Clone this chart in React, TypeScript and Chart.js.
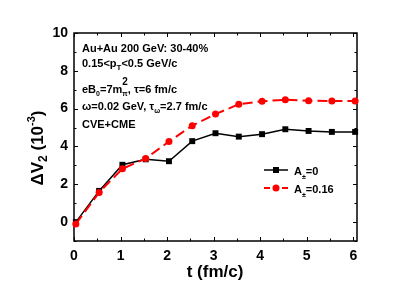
import React, { useEffect, useRef } from "react";
import { Chart, registerables } from "chart.js";

Chart.register(...registerables);

const tValues = [0.04, 0.54, 1.04, 1.54, 2.04, 2.54, 3.04, 3.54, 4.04, 4.54, 5.04, 5.54, 6.04];
const blackValues = [0.0, 1.65, 3.03, 3.32, 3.22, 4.28, 4.7, 4.52, 4.65, 4.91, 4.82, 4.77, 4.77];
const redValues = [-0.1, 1.57, 2.82, 3.36, 4.26, 5.1, 5.71, 6.23, 6.39, 6.47, 6.42, 6.4, 6.4];
const xTickLabels = [0, 1, 2, 3, 4, 5, 6];
const xMinorTicks = [0.5, 1.5, 2.5, 3.5, 4.5, 5.5];
const yTickLabels = [0, 2, 4, 6, 8, 10];
const yMinorTicks = [-1, 1, 3, 5, 7, 9];

const FONT = '"Liberation Sans", Arial, Helvetica, sans-serif';

type Run = { text: string; size: number; dy?: number; stack?: boolean };

function runsWidth(ctx: CanvasRenderingContext2D, runs: Run[]) {
  let w = 0;
  let pending = 0;
  for (const r of runs) {
    ctx.font = `bold ${r.size}px ${FONT}`;
    const rw = ctx.measureText(r.text).width;
    if (r.stack) pending = Math.max(pending, rw);
    else {
      w += Math.max(rw, pending);
      pending = 0;
    }
  }
  return w + pending;
}

function drawRuns(ctx: CanvasRenderingContext2D, x: number, y: number, runs: Run[]) {
  let cx = x;
  let pending = 0;
  for (const r of runs) {
    ctx.font = `bold ${r.size}px ${FONT}`;
    ctx.fillText(r.text, cx, y + (r.dy || 0));
    const rw = ctx.measureText(r.text).width;
    if (r.stack) pending = Math.max(pending, rw);
    else {
      cx += Math.max(rw, pending);
      pending = 0;
    }
  }
}

const infoRows: { y: number; runs: Run[] }[] = [
  { y: 51.5, runs: [{ text: "Au+Au 200 GeV: 30-40%", size: 11 }] },
  {
    y: 67,
    runs: [
      { text: "0.15<p", size: 11 },
      { text: "T", size: 8, dy: 3 },
      { text: "<0.5 GeV/c", size: 11 },
    ],
  },
  {
    y: 93,
    runs: [
      { text: "eB", size: 11 },
      { text: "0", size: 7, dy: 3 },
      { text: "=7m", size: 11 },
      { text: "2", size: 10, dy: -8, stack: true },
      { text: "π", size: 7, dy: 3 },
      { text: ", τ=6 fm/c", size: 11 },
    ],
  },
  {
    y: 110,
    runs: [
      { text: "ω=0.02 GeV, τ", size: 11 },
      { text: "ω", size: 7, dy: 3 },
      { text: "=2.7 fm/c", size: 11 },
    ],
  },
  { y: 128.3, runs: [{ text: "CVE+CME", size: 11 }] },
];

const framePlugin = {
  id: "frame",
  beforeDatasetsDraw(chart: any) {
    const { ctx, chartArea: a, scales } = chart;
    const xs = scales.x;
    const ys = scales.y;
    ctx.save();
    ctx.strokeStyle = "#000";
    ctx.lineWidth = 1.5;
    ctx.strokeRect(a.left, a.top, a.right - a.left, a.bottom - a.top);
    ctx.lineWidth = 1;
    const tick = (x1: number, y1: number, x2: number, y2: number) => {
      ctx.beginPath();
      ctx.moveTo(x1, y1);
      ctx.lineTo(x2, y2);
      ctx.stroke();
    };
    for (const v of xTickLabels) {
      const px = Math.round(xs.getPixelForValue(v)) + 0.5;
      tick(px, a.bottom, px, a.bottom - 4);
      tick(px, a.top, px, a.top + 4);
    }
    for (const v of xMinorTicks) {
      const px = Math.round(xs.getPixelForValue(v)) + 0.5;
      tick(px, a.bottom, px, a.bottom - 2.5);
      tick(px, a.top, px, a.top + 2.5);
    }
    for (const v of yTickLabels) {
      const py = Math.round(ys.getPixelForValue(v)) + 0.5;
      tick(a.left, py, a.left + 4, py);
      tick(a.right, py, a.right - 4, py);
    }
    for (const v of yMinorTicks) {
      const py = Math.round(ys.getPixelForValue(v)) + 0.5;
      tick(a.left, py, a.left + 2.5, py);
      tick(a.right, py, a.right - 2.5, py);
    }
    ctx.restore();
  },
  afterDraw(chart: any) {
    const { ctx, chartArea: a } = chart;
    ctx.save();
    ctx.fillStyle = "#000";
    ctx.textBaseline = "alphabetic";
    ctx.textAlign = "left";
    for (const row of infoRows) drawRuns(ctx, a.left + 8, row.y, row.runs);

    // legend
    const lx1 = 264;
    const lx2 = 288;
    const lm = 276;
    ctx.strokeStyle = "#000";
    ctx.lineWidth = 1.5;
    ctx.beginPath();
    ctx.moveTo(lx1, 170);
    ctx.lineTo(lx2, 170);
    ctx.stroke();
    ctx.fillRect(lm - 3, 167, 6, 6);
    ctx.strokeStyle = "#ff0000";
    ctx.fillStyle = "#ff0000";
    ctx.lineWidth = 2;
    ctx.setLineDash([6, 3]);
    ctx.beginPath();
    ctx.moveTo(lx1, 188);
    ctx.lineTo(lx2, 188);
    ctx.stroke();
    ctx.setLineDash([]);
    ctx.beginPath();
    ctx.arc(lm, 188, 3.5, 0, Math.PI * 2);
    ctx.fill();
    ctx.fillStyle = "#000";
    drawRuns(ctx, 294, 175, [
      { text: "A", size: 11 },
      { text: "±", size: 7, dy: 4 },
      { text: "=0", size: 11 },
    ]);
    drawRuns(ctx, 294, 193, [
      { text: "A", size: 11 },
      { text: "±", size: 7, dy: 4 },
      { text: "=0.16", size: 11 },
    ]);

    // x title
    const xt: Run[] = [{ text: "t (fm/c)", size: 17 }];
    const xw = runsWidth(ctx, xt);
    drawRuns(ctx, 215 - xw / 2, 277, xt);

    // y title
    const yt: Run[] = [
      { text: "ΔV", size: 17 },
      { text: "2", size: 12, dy: 4 },
      { text: " (10", size: 17 },
      { text: "-3", size: 11, dy: -8 },
      { text: ")", size: 17 },
    ];
    const yw = runsWidth(ctx, yt);
    ctx.translate(43, 148);
    ctx.rotate(-Math.PI / 2);
    drawRuns(ctx, -yw / 2, 0, yt);
    ctx.restore();
  },
};

export default function App() {
  const canvasRef = useRef<HTMLCanvasElement | null>(null);

  useEffect(() => {
    const canvas = canvasRef.current;
    if (!canvas) return;
    const tickFont = { size: 14, weight: "bold" as const, family: FONT };
    const chart = new Chart(canvas, {
      type: "line",
      data: {
        datasets: [
          {
            label: "A±=0.16",
            data: tValues.map((t, i) => ({ x: t, y: redValues[i] })),
            borderColor: "#ff0000",
            backgroundColor: "#ff0000",
            borderWidth: 2,
            borderDash: [10, 5],
            pointStyle: "circle",
            pointRadius: 3.5,
            pointBorderWidth: 0,
            tension: 0,
            clip: false as any,
          },
          {
            label: "A±=0",
            data: tValues.map((t, i) => ({ x: t, y: blackValues[i] })),
            borderColor: "#000",
            backgroundColor: "#000",
            borderWidth: 1.5,
            pointStyle: "rect",
            pointRadius: 4.2,
            pointBorderWidth: 0,
            tension: 0,
            clip: false as any,
          },
        ],
      },
      options: {
        responsive: false,
        animation: false,
        devicePixelRatio: 1,
        layout: { padding: { left: 0, top: 33, right: 58, bottom: 0 } },
        plugins: { legend: { display: false }, tooltip: { enabled: false } },
        scales: {
          x: {
            type: "linear",
            min: 0,
            max: 6.08,
            grid: { display: false, drawTicks: false },
            border: { display: false },
            ticks: { padding: 7, color: "#000", font: tickFont, callback: (v: any) => String(v) },
            afterBuildTicks: (s: any) => {
              s.ticks = xTickLabels.map((value) => ({ value }));
            },
            afterFit: (s: any) => {
              s.height = 49;
            },
          },
          y: {
            type: "linear",
            min: -1,
            max: 10,
            grid: { display: false, drawTicks: false },
            border: { display: false },
            ticks: { padding: 6, color: "#000", font: tickFont, callback: (v: any) => String(v) },
            afterBuildTicks: (s: any) => {
              s.ticks = yTickLabels.map((value) => ({ value }));
            },
            afterFit: (s: any) => {
              s.width = 74;
            },
          },
        },
      },
      plugins: [framePlugin],
    });
    return () => chart.destroy();
  }, []);

  return (
    <div style={{ position: "absolute", left: 0, top: 0, width: 415, height: 290, background: "#fff" }}>
      <canvas ref={canvasRef} width={415} height={290} style={{ display: "block", width: 415, height: 290 }} />
    </div>
  );
}
